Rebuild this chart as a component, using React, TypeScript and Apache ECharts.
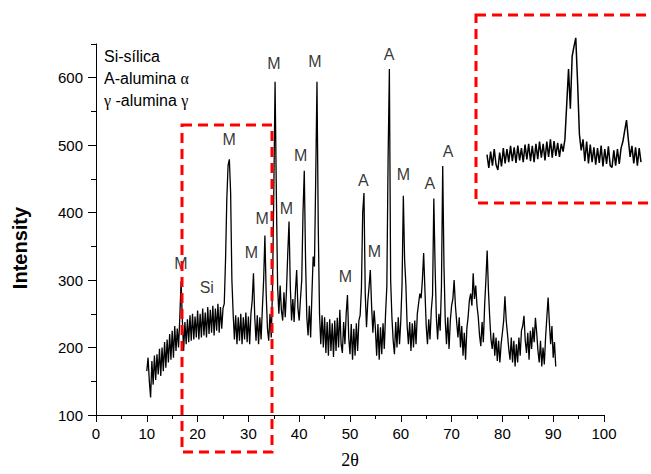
import React, { useEffect, useRef } from "react";
import * as echarts from "echarts";

// Main XRD pattern, sampled every 0.25° in 2θ starting at 10°
const xStart = 10;
const xStep = 0.25;
const intensity = [
  165, 185, 150, 126, 180, 145, 188, 152, 190, 160, 198, 158, 200, 165, 208, 170, 212, 178, 220, 182,
  225, 185, 232, 195, 228, 200, 245, 298, 240, 195, 238, 205, 242, 208, 248, 210, 250, 212, 246, 215,
  255, 212, 250, 215, 258, 218, 252, 215, 260, 220, 256, 222, 262, 218, 258, 225, 265, 222, 260, 228,
  258, 265, 330, 420, 470, 479, 430, 300, 250, 212, 248, 205, 245, 210, 250, 205, 245, 212, 252, 208,
  246, 205, 250, 270, 310, 245, 210, 248, 205, 245, 212, 258, 300, 366, 280, 228, 210, 250, 215, 290,
  430, 594, 430, 290, 250, 292, 255, 240, 282, 245, 285, 340, 387, 290, 240, 272, 238, 282, 315, 258,
  240, 272, 300, 400, 462, 330, 245, 218, 262, 215, 278, 335, 320, 450, 594, 380, 250, 205, 248, 200,
  245, 192, 238, 188, 242, 195, 236, 186, 240, 195, 244, 200, 256, 205, 192, 238, 205, 250, 278, 215,
  190, 235, 182, 228, 188, 236, 195, 240, 248, 288, 400, 429, 280, 230, 268, 290, 315, 262, 222, 255,
  228, 188, 235, 182, 230, 190, 236, 198, 250, 290, 480, 613, 300, 245, 210, 190, 238, 200, 245, 205,
  240, 295, 425, 330, 293, 232, 205, 238, 195, 236, 200, 240, 205, 250, 265, 280, 273, 300, 340, 285,
  232, 205, 242, 212, 255, 278, 421, 320, 245, 212, 250, 225, 290, 469, 320, 240, 205, 245, 198, 240,
  262, 272, 300, 262, 238, 215, 245, 200, 232, 188, 222, 182, 228, 245, 270, 280, 262, 310, 272, 292,
  262, 245, 218, 202, 238, 208, 262, 300, 344, 285, 245, 212, 198, 222, 188, 215, 180, 210, 178, 205,
  222, 240, 276, 240, 220, 198, 182, 215, 178, 210, 172, 205, 178, 215, 188, 225, 232, 247, 210, 192,
  222, 182, 225, 198, 230, 208, 244, 222, 195, 178, 210, 172, 200, 175, 215, 245, 274, 236, 205, 232,
  185, 208, 172,
];

// Inset (zoomed region), sampled every 0.2 starting at 18
const insetStart = 18;
const insetStep = 0.2;
const insetIntensity = [
  215, 185, 222, 190, 228, 192, 180, 220, 188, 230,
  195, 228, 198, 235, 200, 232, 196, 236, 202, 230,
  198, 238, 204, 240, 200, 235, 198, 240, 205, 245,
  208, 240, 202, 245, 210, 250, 208, 246, 212, 242,
  210, 240, 222, 250, 330, 411, 320, 440, 462, 482,
  380, 262, 225, 250, 200, 245, 195, 238, 198, 232,
  192, 230, 196, 236, 188, 228, 194, 234, 190, 186,
  225, 190, 228, 194, 230, 245, 270, 294, 250, 210,
  235, 195, 232, 190, 230, 198,
];

// Phase labels placed at [2θ, intensity]
const labelTexts = ["M", "Si", "M", "M", "M", "M", "M", "M", "M", "M", "A", "M", "A", "M", "A", "A"];
const labelX = [16.7, 21.8, 26.2, 30.6, 32.7, 35.0, 37.5, 40.3, 43.1, 49.1, 52.6, 54.8, 57.7, 60.5, 65.7, 69.3];
const labelY = [325, 289, 509, 341, 391, 621, 406, 485, 624, 306, 447, 343, 635, 457, 443, 490];

const xTickLabels = [0, 10, 20, 30, 40, 50, 60, 70, 80, 90, 100];
const yTickLabels = [100, 200, 300, 400, 500, 600];

const SANS = 'Arial, "Liberation Sans", Helvetica, sans-serif';
const SERIF = '"Liberation Serif", "Times New Roman", "DejaVu Serif", serif';

export default function App() {
  const ref = useRef<HTMLDivElement>(null);
  useEffect(() => {
    document.body.style.margin = "0";
    const chart = echarts.init(ref.current!, null, { renderer: "svg" });
    const mainData = intensity.map((v, i) => [xStart + i * xStep, v]);
    const insetData = insetIntensity.map((v, i) => [insetStart + i * insetStep, v]);
    const labelData = labelTexts.map((t, i) => ({ name: t, value: [labelX[i], labelY[i]] }));
    const option: any = {
      animation: false,
      backgroundColor: "#fff",
      grid: [
        { left: 96, top: 44, width: 508, height: 374 },
        { left: 487, top: 30, width: 154, height: 140 },
      ],
      xAxis: [
        {
          type: "value",
          gridIndex: 0,
          position: "bottom",
          min: 0,
          max: 100,
          interval: 10,
          splitLine: { show: false },
          axisLine: { show: true, onZero: false, lineStyle: { color: "#000", width: 1 } },
          axisTick: { show: true, length: 7, lineStyle: { color: "#000" }, customValues: xTickLabels },
          axisLabel: { margin: 11, fontSize: 15, color: "#000", fontFamily: SANS, customValues: xTickLabels },
          name: "2θ",
          nameLocation: "middle",
          nameGap: 36,
          nameTextStyle: { fontFamily: SERIF, fontSize: 18, color: "#000" },
        },
        {
          type: "value",
          gridIndex: 0,
          position: "bottom",
          min: 0,
          max: 100,
          interval: 5,
          splitLine: { show: false },
          axisLine: { show: false, onZero: false },
          axisTick: { show: true, length: 4, lineStyle: { color: "#000" } },
          axisLabel: { show: false },
        },
        { type: "value", gridIndex: 1, min: 18, max: 35, show: false },
      ],
      yAxis: [
        {
          type: "value",
          gridIndex: 0,
          position: "left",
          min: 100,
          max: 650,
          interval: 100,
          splitLine: { show: false },
          axisLine: { show: true, onZero: false, lineStyle: { color: "#000", width: 1 } },
          axisTick: { show: true, length: 8, lineStyle: { color: "#000" }, customValues: yTickLabels },
          axisLabel: { margin: 13, fontSize: 15, color: "#000", fontFamily: SANS, customValues: yTickLabels },
        },
        {
          type: "value",
          gridIndex: 0,
          position: "left",
          min: 100,
          max: 650,
          interval: 50,
          splitLine: { show: false },
          axisLine: { show: false, onZero: false },
          axisTick: { show: true, length: 5, lineStyle: { color: "#000" } },
          axisLabel: { show: false },
        },
        { type: "value", gridIndex: 1, min: 180, max: 500, show: false },
      ],
      series: [
        {
          type: "line",
          xAxisIndex: 0,
          yAxisIndex: 0,
          data: mainData,
          symbol: "none",
          showSymbol: false,
          lineStyle: { color: "#000", width: 1.3 },
          silent: true,
        },
        {
          type: "scatter",
          xAxisIndex: 0,
          yAxisIndex: 0,
          data: labelData,
          symbolSize: 0,
          silent: true,
          label: {
            show: true,
            position: "inside",
            formatter: "{b}",
            fontSize: 16,
            color: "#000",
            fontFamily: SANS,
          },
        },
        {
          type: "line",
          xAxisIndex: 2,
          yAxisIndex: 2,
          data: insetData,
          symbol: "none",
          showSymbol: false,
          lineStyle: { color: "#000", width: 1.5 },
          silent: true,
        },
      ],
      graphic: [
        {
          type: "rect",
          z: 100,
          silent: true,
          shape: { x: 182, y: 125, width: 90, height: 327 },
          style: { fill: "none", stroke: "#ff0000", lineWidth: 3, lineDash: [10, 6] },
        },
        {
          type: "rect",
          z: 100,
          silent: true,
          shape: { x: 476, y: 15, width: 200, height: 188 },
          style: { fill: "none", stroke: "#ff0000", lineWidth: 3, lineDash: [10, 6] },
        },
        {
          type: "text",
          x: 20,
          y: 248,
          rotation: Math.PI / 2,
          style: {
            text: "Intensity",
            fontSize: 20,
            fontWeight: "bold",
            fontFamily: SANS,
            fill: "#000",
            textAlign: "center",
            textVerticalAlign: "middle",
          },
        },
        {
          type: "text",
          x: 104,
          y: 56,
          style: { text: "Si-sílica", fontSize: 16, fontFamily: SANS, fill: "#000", textVerticalAlign: "middle" },
        },
        {
          type: "text",
          x: 104,
          y: 78,
          style: {
            text: "A-alumina {g|α}",
            fontSize: 16,
            fontFamily: SANS,
            fill: "#000",
            textVerticalAlign: "middle",
            rich: { g: { fontFamily: SERIF, fontSize: 16, fill: "#000" } },
          },
        },
        {
          type: "text",
          x: 104,
          y: 100,
          style: {
            text: "{g|γ} -alumina {g|γ}",
            fontSize: 16,
            fontFamily: SANS,
            fill: "#000",
            textVerticalAlign: "middle",
            rich: { g: { fontFamily: SERIF, fontSize: 16, fill: "#000" } },
          },
        },
      ],
    };
    chart.setOption(option);
    return () => chart.dispose();
  }, []);
  return <div ref={ref} style={{ width: 651, height: 474 }} />;
}
